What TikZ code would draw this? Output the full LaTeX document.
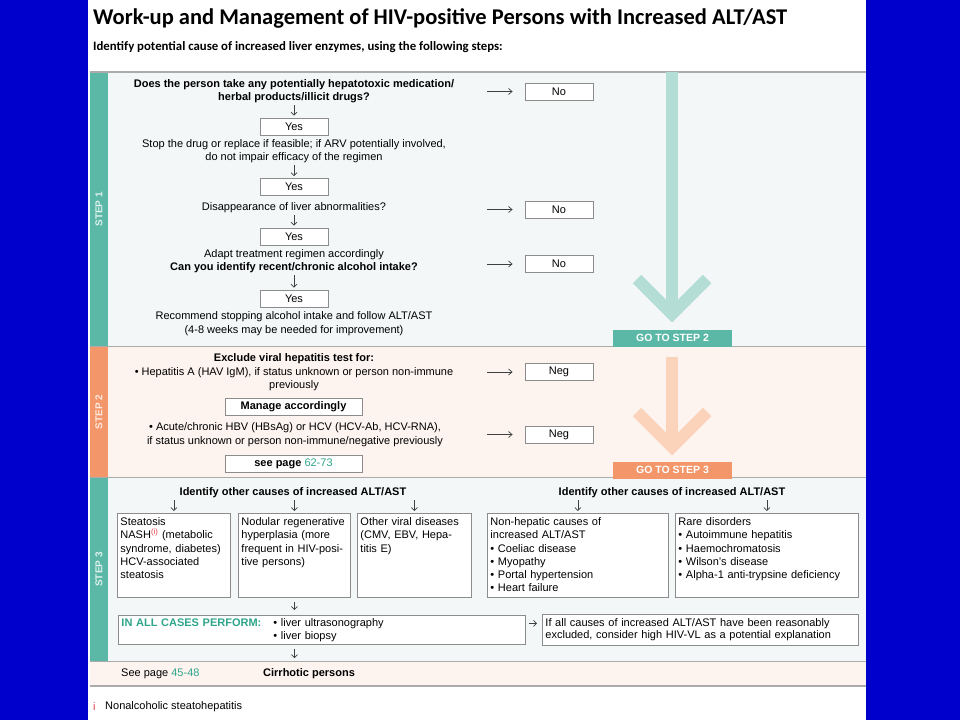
\documentclass[tikz,border=0pt]{standalone}
\usepackage{fontspec}
\setmainfont{Liberation Sans}
\newfontfamily\headfont{Carlito}
\usetikzlibrary{arrows.meta,positioning,calc}
\definecolor{slideblue}{HTML}{0000CC}
\definecolor{tteal}{HTML}{5BB8A6}
\definecolor{lteal}{HTML}{B4DDD5}
\definecolor{pteal}{HTML}{F3F7F7}
\definecolor{torange}{HTML}{F3966A}
\definecolor{lorange}{HTML}{FBD3BA}
\definecolor{ppeach}{HTML}{FDF4F0}
\definecolor{dteal}{HTML}{2FA58B}
\definecolor{rulegrey}{HTML}{ABABAB}
\definecolor{boxgrey}{HTML}{8C8C8C}
\definecolor{fnred}{HTML}{E23B45}
\newcommand{\fsz}{\fontsize{11}{13}\selectfont}
\tikzset{
  txt/.style={font=\fsz,align=center,inner sep=0pt},
  wbox/.style={draw=boxgrey,fill=white,line width=0.9pt},
  ans/.style={wbox,minimum width=68pt,minimum height=17pt,inner sep=0pt,font=\fsz},
  cause/.style={wbox,anchor=north west,align=left,inner xsep=3pt,inner ysep=4pt,
                text height=8pt,text depth=68pt,font=\fontsize{11}{13.3}\selectfont},
  dn/.style={-{Straight Barb[length=3pt,width=6pt]},line width=0.7pt,black!75,shorten <=2pt,shorten >=2pt},
  rarr/.style={-{Straight Barb[length=3.5pt,width=6pt]},line width=0.7pt,black!75,shorten >=12pt},
  gobox/.style={text=white,font=\bfseries\fontsize{10.5}{10.5}\selectfont,minimum width=119pt,
                minimum height=17pt,inner sep=0pt},
  bigarr/.style={line width=12pt,line join=miter},
  rule/.style={rulegrey,line width=1.3pt},
}
\begin{document}
\begin{tikzpicture}[x=1pt,y=-1pt]
% slide
\useasboundingbox (0,0) rectangle (960,720);
\fill[slideblue] (0,0) rectangle (960,720);
\fill[white] (88,0) rectangle (866,720);
% heading
\node[anchor=west,inner sep=0pt,font=\headfont\bfseries\fontsize{22.5}{24}\selectfont] (title) at (93,18)
  {Work-up and Management of HIV-positive Persons with Increased ALT/AST};
\node[anchor=west,inner sep=0pt,font=\headfont\bfseries\fontsize{12.8}{14}\selectfont] (intro) at (93,47)
  {Identify potential cause of increased liver enzymes, using the following steps:};
% step bands
\foreach \ya/\yb/\bg/\tb/\n in {72/346.5/pteal/tteal/1,346.5/477.5/ppeach/torange/2,477.5/661.5/pteal/tteal/3}{
  \fill[\bg] (90,\ya) rectangle (866,\yb);
  \fill[\tb] (90,\ya) rectangle (108,\yb);
  \node[rotate=90,inner sep=0pt,text=white!80!\tb,font=\bfseries\fontsize{10}{10}\selectfont] (tab\n)
    at (99,{(\ya+\yb)/2}) {STEP \n};
}
\fill[ppeach] (90,661.5) rectangle (866,686);
\foreach \y in {72,346.5,477.5,661.5,686} \draw[rule] (90,\y) -- (866,\y);
% big arrows down to the next step
\node[gobox,fill=tteal] (go2) at (672.5,338) {GO TO STEP 2};
\node[gobox,fill=torange] (go3) at (672.5,470) {GO TO STEP 3};
\coordinate (tip2) at (672,314);
\coordinate (tip3) at (672,447);
\draw[bigarr,lteal] (tip2 |- 0,72) -- (tip2);
\draw[bigarr,lteal] ($(tip2)+(-35,-35)$) -- (tip2) -- ($(tip2)+(35,-35)$);
\draw[bigarr,lorange] (tip3 |- 0,357) -- (tip3);
\draw[bigarr,lorange] ($(tip3)+(-35,-35)$) -- (tip3) -- ($(tip3)+(35,-35)$);
% step 1
\node[txt,font=\fsz\bfseries] (q1) at (294,91.5)
  {Does the person take any potentially hepatotoxic medication/\\herbal products/illicit drugs?};
\node[ans] (yes1) at (294,126.5) {Yes};
\node[txt] (stopd) at (294,151.5)
  {Stop the drug or replace if feasible; if ARV potentially involved,\\do not impair efficacy of the regimen};
\node[ans] (yes2) at (294,187) {Yes};
\node[txt] (disap) at (294,208) {Disappearance of liver abnormalities?};
\node[ans] (yes3) at (294,236.5) {Yes};
\node[txt] (alco) at (294,261.5)
  {Adapt treatment regimen accordingly\\\textbf{Can you identify recent/chronic alcohol intake?}};
\node[ans] (yes4) at (294,298.5) {Yes};
\node[txt] (recom) at (294,323.5)
  {Recommend stopping alcohol intake and follow ALT/AST\\[1pt](4-8 weeks may be needed for improvement)};
\foreach \a/\b in {q1/yes1,stopd/yes2,disap/yes3,alco/yes4} \draw[dn] (\a) -- (\b);
\node[ans] (no1) at (559,91.5) {No};
\node[ans] (no2) at (559,209.5) {No};
\node[ans] (no3) at (559,264) {No};
% step 2
\node[txt] (excl) at (294,372)
  {\textbf{Exclude viral hepatitis test for:}\\[1pt]• Hepatitis A (HAV IgM), if status unknown or person non-immune\\previously};
\node[ans,minimum width=137pt,font=\fsz\bfseries] (manage) at (293.5,406.5) {Manage accordingly};
\node[txt] (hbv) at (295,434.5)
  {• Acute/chronic HBV (HBsAg) or HCV (HCV-Ab, HCV-RNA),\\[1pt]if status unknown or person non-immune/negative previously};
\node[ans,minimum width=137pt] (seep) at (293.5,463.5) {\textbf{see page} \textcolor{dteal}{62-73}};
\node[ans] (neg1) at (559,372) {Neg};
\node[ans] (neg2) at (559,434.5) {Neg};
\coordinate (rcol) at (487,0);
\foreach \n in {no1,no2,no3,neg1,neg2} \draw[rarr] (rcol |- \n.west) -- (\n.west);
% step 3
\node[txt,font=\fsz\bfseries] (idl) at (293,493) {Identify other causes of increased ALT/AST};
\node[txt,font=\fsz\bfseries] (idr) at (672,493) {Identify other causes of increased ALT/AST};
\node[cause,text width=107pt] (c1) at (117,513)
  {Steatosis\\NASH\textsuperscript{\textcolor{fnred}{(i)}} (metabolic\\syndrome, diabetes)\\HCV-associated\\steatosis};
\node[cause,text width=106pt] (c2) at (238,513)
  {Nodular regenerative\\hyperplasia (more\\frequent in HIV-posi-\\tive persons)};
\node[cause,text width=108pt] (c3) at (357,513)
  {Other viral diseases\\(CMV, EBV, Hepa-\\titis E)};
\node[cause,text width=175pt] (c4) at (487,513)
  {Non-hepatic causes of\\increased ALT/AST\\• Coeliac disease\\• Myopathy\\• Portal hypertension\\• Heart failure};
\node[cause,text width=177pt] (c5) at (675,513)
  {Rare disorders\\• Autoimmune hepatitis\\• Haemochromatosis\\• Wilson's disease\\• Alpha-1 anti-trypsine deficiency};
\foreach \c in {c1,c2,c3} \draw[dn] (\c |- idl.south) -- (\c.north);
\foreach \c in {c4,c5} \draw[dn] (\c |- idr.south) -- (\c.north);
\node[wbox,anchor=north west,align=left,text width=401pt,inner xsep=3pt,inner ysep=3pt,
      text height=8pt,text depth=15pt,font=\fsz] (perf) at (118,615)
  {\makebox[152pt][l]{\textcolor{dteal}{\bfseries IN ALL CASES PERFORM:}}• liver ultrasonography\\\hspace*{152pt}• liver biopsy};
\node[wbox,anchor=north west,align=left,text width=310pt,inner xsep=3pt,inner ysep=4pt,
      text height=8pt,text depth=15pt,font=\fontsize{11}{12.5}\selectfont] (vl) at (542,614)
  {If all causes of increased ALT/AST have been reasonably\\excluded, consider high HIV-VL as a potential explanation};
\draw[dn,shorten <=3pt,shorten >=5pt] ($(perf.east)+(0,-6.5)$) -- ($(vl.west)+(0,-6.5)$);
\draw[dn,shorten <=4pt,shorten >=5pt] (c2.south) -- (c2.south |- perf.north);
% cirrhosis row and footnote
\node[txt,anchor=west] (seeb) at (121,673.5) {See page \textcolor{dteal}{45-48}};
\node[txt,anchor=west,font=\fsz\bfseries] (cirr) at (263,673.5) {Cirrhotic persons};
\draw[dn,shorten <=4pt,shorten >=10pt] (c2 |- perf.south) -- (c2 |- cirr.north);
\node[txt,anchor=west,text=fnred] (fnmark) at (93,707) {i};
\node[txt,anchor=west] (fn) at (105,707) {Nonalcoholic steatohepatitis};
\end{tikzpicture}
\end{document}
